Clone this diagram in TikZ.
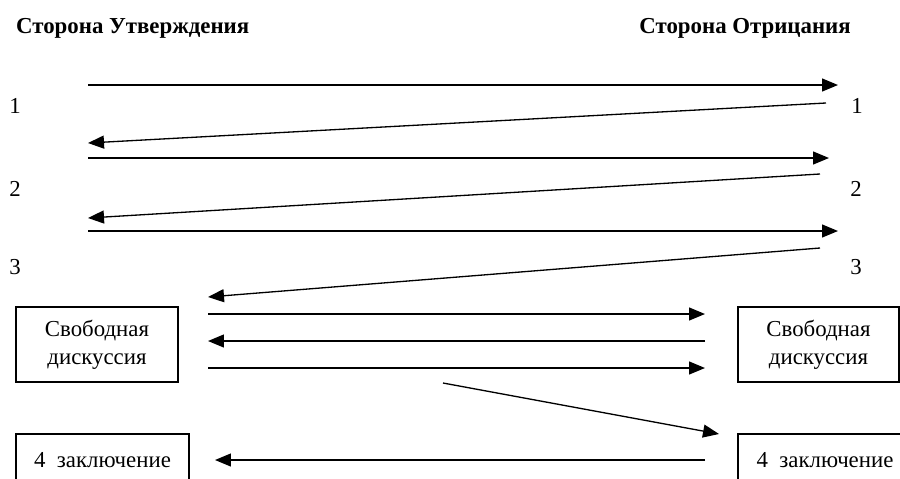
\documentclass[tikz,border=0pt]{standalone}
\usepackage{fontspec}
\setmainfont{Liberation Serif}
\usetikzlibrary{arrows.meta,positioning}

\begin{document}
\begin{tikzpicture}[x=0.02cm,y=-0.02cm,
    font=\fontsize{13}{16}\selectfont,
    arr/.style={-{Triangle[length=0.32cm,width=0.26cm]}, line width=0.75pt},
    box/.style={draw, rectangle, line width=0.75pt, align=center, inner sep=0pt},
    head/.style={font=\fontsize{13}{16}\selectfont\bfseries}]
        \useasboundingbox (0,0) rectangle (900,478);
        \clip (0,0) rectangle (900,478);

        % Side headers
        \node[head, anchor=west] (pro_head) at (10,28) {Сторона Утверждения};
        \node[head, anchor=east] (con_head) at (857,28) {Сторона Отрицания};

        % Speaker numbers
        \node (pro_one) at (15,106) {1};
        \node (con_one) at (857,106) {1};
        \node (pro_two) at (15,189) {2};
        \node (con_two) at (856,189) {2};
        \node (pro_three) at (15,267) {3};
        \node (con_three) at (856,267) {3};

        % Boxes
        \node[box, minimum width=3.24cm, minimum height=1.5cm] (pro_free) at (97,344.5) {Свободная\\дискуссия};
        \node[box, minimum width=3.22cm, minimum height=1.5cm] (con_free) at (818.5,344.5) {Свободная\\дискуссия};
        \node[box, minimum width=3.46cm, minimum height=1.04cm] (pro_end) at (102.5,460) {4\ \ заключение};
        \node[box, minimum width=3.48cm, minimum height=1.04cm] (con_end) at (825,460) {4\ \ заключение};

        % Arrow ends
        \coordinate (p1) at (88,85);   \coordinate (c1) at (838,85);
        \coordinate (c1r) at (826,103); \coordinate (p1r) at (88,143);
        \coordinate (p2) at (88,158);  \coordinate (c2) at (829,158);
        \coordinate (c2r) at (820,174); \coordinate (p2r) at (88,218);
        \coordinate (p3) at (88,231);  \coordinate (c3) at (838,231);
        \coordinate (c3r) at (820,248); \coordinate (p3r) at (208,297);
        \coordinate (pf1) at (208,314); \coordinate (cf1) at (705,314);
        \coordinate (cf2) at (705,341); \coordinate (pf2) at (208,341);
        \coordinate (pf3) at (208,368); \coordinate (cf3) at (705,368);
        \coordinate (d1) at (443,383);  \coordinate (d2) at (719,434);
        \coordinate (ce) at (705,460);  \coordinate (pe) at (215,460);

        % Speeches
        \draw[arr] (p1) -- (c1);
        \draw[arr] (c1r) -- (p1r);
        \draw[arr] (p2) -- (c2);
        \draw[arr] (c2r) -- (p2r);
        \draw[arr] (p3) -- (c3);
        \draw[arr] (c3r) -- (p3r);

        % Free discussion
        \draw[arr] (pf1) -- (cf1);
        \draw[arr] (cf2) -- (pf2);
        \draw[arr] (pf3) -- (cf3);
        \draw[arr] (d1) -- (d2);
        \draw[arr] (ce) -- (pe);

    \end{tikzpicture}
\end{document}
